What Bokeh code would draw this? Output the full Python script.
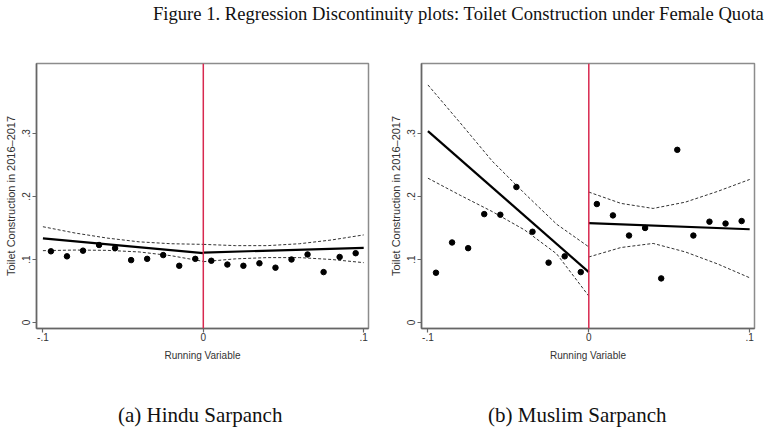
from bokeh.plotting import figure
from bokeh.models import Span, Div, FixedTicker
from bokeh.layouts import column, row
from bokeh.embed import file_html
from bokeh.resources import INLINE

# ---- data ----
bin_x = [-0.095, -0.085, -0.075, -0.065, -0.055, -0.045, -0.035, -0.025, -0.015, -0.005,
         0.005, 0.015, 0.025, 0.035, 0.045, 0.055, 0.065, 0.075, 0.085, 0.095]
hindu_y = [0.113, 0.105, 0.114, 0.123, 0.118, 0.099, 0.101, 0.107, 0.090, 0.101,
           0.098, 0.092, 0.090, 0.094, 0.087, 0.100, 0.108, 0.080, 0.104, 0.110]
muslim_y = [0.079, 0.127, 0.118, 0.172, 0.171, 0.215, 0.144, 0.095, 0.105, 0.080,
            0.188, 0.170, 0.138, 0.150, 0.070, 0.274, 0.138, 0.160, 0.157, 0.161]

fit_x_left = [-0.1, 0.0]
fit_x_right = [0.0, 0.1]
hindu_fit_left = [0.1335, 0.110]
hindu_fit_right = [0.111, 0.1185]
muslim_fit_left = [0.3037, 0.080]
muslim_fit_right = [0.1577, 0.148]

ci_x_left = [-0.1, -0.08, -0.06, -0.04, -0.02, 0.0]
ci_x_right = [0.0, 0.02, 0.04, 0.06, 0.08, 0.1]
hindu_hi_left = [0.152, 0.142, 0.134, 0.128, 0.125, 0.124]
hindu_lo_left = [0.114, 0.115, 0.1145, 0.112, 0.106, 0.097]
hindu_hi_right = [0.124, 0.122, 0.122, 0.125, 0.131, 0.139]
hindu_lo_right = [0.0965, 0.101, 0.103, 0.103, 0.100, 0.095]
muslim_hi_left = [0.377, 0.317, 0.256, 0.205, 0.156, 0.120]
muslim_lo_left = [0.229, 0.202, 0.176, 0.147, 0.109, 0.042]
muslim_hi_right = [0.207, 0.189, 0.181, 0.191, 0.208, 0.227]
muslim_lo_right = [0.104, 0.119, 0.1255, 0.112, 0.093, 0.071]

x_ticks = [-0.1, 0.0, 0.1]
x_tick_labels = ["-.1", "0", ".1"]
y_ticks = [0.0, 0.1, 0.2, 0.3]
y_tick_labels = ["0", ".1", ".2", ".3"]

title_text = "Figure 1. Regression Discontinuity plots: Toilet Construction under Female Quota"
captions = ["(a) Hindu Sarpanch", "(b) Muslim Sarpanch"]
x_label = "Running Variable"
y_label = "Toilet Construction in 2016\u20132017"

SANS = "Liberation Sans"
SERIF = "Liberation Serif"


def panel(ys, fl, fr, hl, ll, hr, lr, min_left, min_right):
    p = figure(width=386, height=340, output_backend="svg", toolbar_location=None,
               x_range=(-0.104, 0.103), y_range=(-0.0095, 0.411),
               min_border_left=min_left, min_border_right=min_right,
               min_border_top=33, min_border_bottom=42)
    p.xgrid.visible = False
    p.ygrid.visible = False
    p.outline_line_color = "#8c8c8c"
    p.outline_line_width = 1.5
    p.background_fill_color = "white"
    p.border_fill_color = "white"

    for ax in (p.xaxis[0], p.yaxis[0]):
        ax.axis_line_color = "#666666"
        ax.axis_line_width = 1.5
        ax.major_tick_line_color = "#666666"
        ax.major_tick_line_width = 1.2
        ax.major_tick_in = 0
        ax.major_tick_out = 4
        ax.minor_tick_line_color = None
        ax.major_label_text_font = SANS
        ax.major_label_text_font_size = "10px"
        ax.major_label_text_color = "#333333"
        ax.axis_label_text_font = SANS
        ax.axis_label_text_font_style = "normal"
        ax.axis_label_text_color = "#333333"

    p.xaxis.ticker = FixedTicker(ticks=x_ticks)
    p.xaxis.major_label_overrides = dict(zip(x_ticks, x_tick_labels))
    p.xaxis.major_label_standoff = 0
    p.xaxis.axis_label = x_label
    p.xaxis.axis_label_text_font_size = "10px"
    p.xaxis.axis_label_standoff = 6

    p.yaxis.ticker = FixedTicker(ticks=y_ticks)
    p.yaxis.major_label_overrides = dict(zip(y_ticks, y_tick_labels))
    p.yaxis.major_label_orientation = "vertical"
    p.yaxis.major_label_standoff = 2
    p.yaxis.axis_label = y_label
    p.yaxis.axis_label_text_font_size = "11px"
    p.yaxis.axis_label_standoff = 3

    p.add_layout(Span(location=0, dimension="height", line_color="#d8294f", line_width=1.5))

    dash = dict(line_color="#333333", line_width=1, line_dash="3 2")
    p.line(ci_x_left, hl, **dash)
    p.line(ci_x_left, ll, **dash)
    p.line(ci_x_right, hr, **dash)
    p.line(ci_x_right, lr, **dash)
    p.line(fit_x_left, fl, line_color="black", line_width=2.2)
    p.line(fit_x_right, fr, line_color="black", line_width=2.2)
    p.scatter(bin_x, ys, size=5.5, color="black")
    return p


p1 = panel(hindu_y, hindu_fit_left, hindu_fit_right, hindu_hi_left, hindu_lo_left,
           hindu_hi_right, hindu_lo_right, 36, 18)
p2 = panel(muslim_y, muslim_fit_left, muslim_fit_right, muslim_hi_left, muslim_lo_left,
           muslim_hi_right, muslim_lo_right, 35, 18)

title = Div(text=f'<div style="font-family:\'{SERIF}\';font-size:18.6px;line-height:20px;'
                 f'color:#111;margin-top:4px;padding-left:153px;white-space:nowrap">{title_text}</div>',
            width=772, height=30, margin=0)
cap_style = (f"font-family:'{SERIF}';font-size:21px;line-height:22px;"
             "color:#111;margin-top:34px;white-space:nowrap")
cap1 = Div(text=f'<div style="{cap_style};padding-left:118px">{captions[0]}</div>',
           width=386, height=76, margin=0)
cap2 = Div(text=f'<div style="{cap_style};padding-left:102px">{captions[1]}</div>',
           width=386, height=76, margin=0)

layout = column(title, row(p1, p2, spacing=0), row(cap1, cap2, spacing=0), spacing=0)
open("out.html", "w").write(file_html(layout, INLINE))
